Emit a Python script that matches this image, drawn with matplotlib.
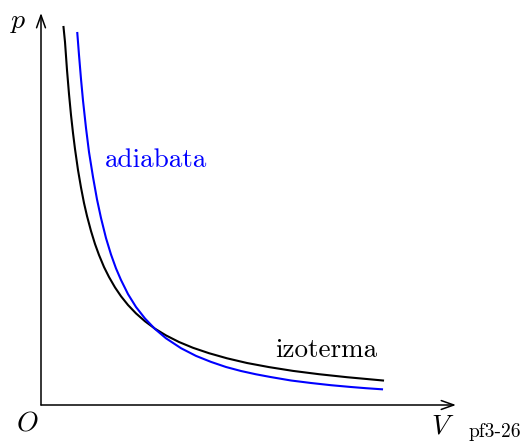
import matplotlib
matplotlib.use("Agg")
import matplotlib.pyplot as plt

# Isotherm (pV = const) sampled points
iso_V = [0.225, 0.24, 0.26, 0.28, 0.30, 0.32, 0.34, 0.37, 0.40, 0.43, 0.46, 0.50,
         0.54, 0.58, 0.63, 0.68, 0.74, 0.80, 0.87, 0.95, 1.04, 1.14, 1.25, 1.38,
         1.52, 1.68, 1.86, 2.06, 2.28, 2.52, 2.78, 3.06, 3.42]
iso_p = [3.78, 3.63, 3.35, 3.11, 2.90, 2.72, 2.56, 2.35, 2.175, 2.02, 1.89, 1.74,
         1.61, 1.50, 1.38, 1.28, 1.176, 1.0875, 1.0, 0.916, 0.837, 0.763, 0.696, 0.630,
         0.572, 0.518, 0.467, 0.420, 0.379, 0.341, 0.308, 0.278, 0.245]

# Adiabat (pV^gamma = const) sampled points
adi_V = [0.363, 0.38, 0.40, 0.42, 0.45, 0.48, 0.52, 0.56, 0.60, 0.65, 0.70, 0.75,
         0.80, 0.87, 0.95, 1.04, 1.14, 1.25, 1.40, 1.55, 1.70, 1.85, 2.00, 2.15,
         2.30, 2.50, 2.70, 2.90, 3.10, 3.25, 3.41]
adi_p = [3.72, 3.50, 3.26, 3.045, 2.77, 2.53, 2.28, 2.056, 1.87, 1.669, 1.505, 1.366,
         1.25, 1.109, 0.98, 0.865, 0.76, 0.667, 0.568, 0.491, 0.431, 0.380, 0.340, 0.307,
         0.279, 0.245, 0.220, 0.198, 0.180, 0.168, 0.157]

fig = plt.figure(figsize=(5.25, 4.41), dpi=100)
ax = fig.add_axes([0, 0, 1, 1])
ax.set_xlim(-0.41, 4.84)
ax.set_ylim(-0.36, 4.05)
ax.axis("off")

# coordinate axes with open arrow heads
arrow = dict(arrowstyle="->,head_length=0.9,head_width=0.32", lw=1.1, color="black",
             shrinkA=0, shrinkB=0)
ax.annotate("", xy=(4.15, 0), xytext=(0, 0), arrowprops=arrow)
ax.annotate("", xy=(0, 3.92), xytext=(0, 0), arrowprops=arrow)

ax.plot(iso_V, iso_p, color="black", lw=1.5, solid_joinstyle="round")
ax.plot(adi_V, adi_p, color="#0000ff", lw=1.5, solid_joinstyle="round")

ax.text(-0.23, 3.84, "p", family="cmmi10", fontsize=20, ha="center", va="center")
ax.text(-0.14, -0.20, "O", family="cmmi10", fontsize=20, ha="center", va="center")
ax.text(3.99, -0.22, "V", family="cmmi10", fontsize=20, ha="center", va="center")
ax.text(4.54, -0.27, "pf3-26", family="cmr10", fontsize=14, ha="center", va="center")
ax.text(0.64, 2.45, "adiabata", family="cmr10", fontsize=19.5, color="#0000ff",
        ha="left", va="center")
ax.text(2.34, 0.55, "izoterma", family="cmr10", fontsize=19.5, color="black",
        ha="left", va="center")

fig.savefig("out.png", dpi=100)
